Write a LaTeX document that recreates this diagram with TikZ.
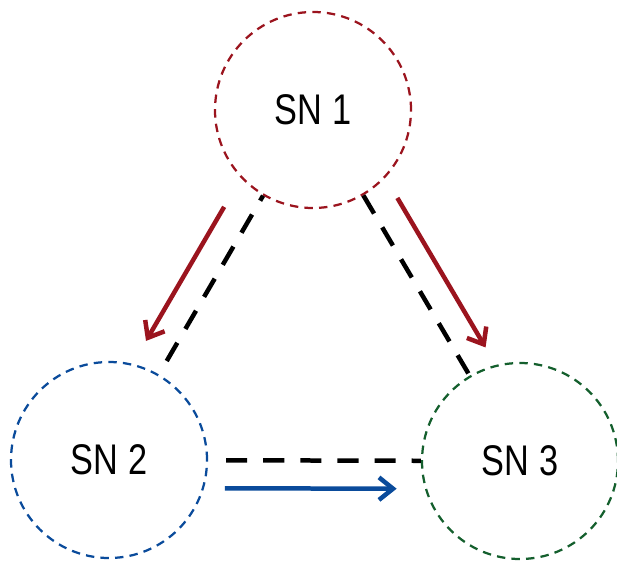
\documentclass[tikz,border=0pt]{standalone}
\usepackage{fontspec}
\newfontfamily\nodefont[FakeStretch=0.8]{Liberation Sans}
\usetikzlibrary{arrows.meta,calc}
\definecolor{snred}{RGB}{155,20,30}
\definecolor{snblue}{RGB}{10,75,155}
\definecolor{sngreen}{RGB}{20,95,45}

\begin{document}
\begin{tikzpicture}[
    sn/.style={circle, draw, line width=1.6pt, dash pattern=on 6pt off 4.4pt, minimum size=4.9cm, inner sep=0pt, font=\nodefont\fontsize{30.5}{31}\selectfont},
    lien/.style={line width=3.2pt, dash pattern=on 15pt off 11.4pt},
    fleche/.style={line width=3.2pt, -{Straight Barb[length=10pt, width=16pt]}}
]
    \useasboundingbox (0,0) rectangle (15.425,-14);

    % Noeuds
    \node[sn, draw=snred] (sn1) at (7.825, -2.75) {SN 1};
    \node[sn, draw=snblue] (sn2) at (2.725, -11.5) {SN 2};
    \node[sn, draw=sngreen] (sn3) at (13.0, -11.525) {SN 3};

    % Liens
    \draw[lien, shorten <=11pt] (sn2) -- (sn1);
    \draw[lien] (sn1) -- (sn3);
    \draw[lien, shorten <=12.8pt] (sn2) -- (sn3);

    % Fl\`eches
    \draw[fleche, snred] ($(sn1)!0.317!(sn2)!0.7cm!-90:(sn2)$) -- ($(sn1)!0.70!(sn2)!0.7cm!-90:(sn2)$);
    \draw[fleche, snred] ($(sn1)!0.291!(sn3)!0.7cm!90:(sn3)$) -- ($(sn1)!0.717!(sn3)!0.7cm!90:(sn3)$);
    \draw[fleche, snblue] ($(sn2)!0.282!(sn3)!0.7cm!-90:(sn3)$) -- ($(sn2)!0.70!(sn3)!0.7cm!-90:(sn3)$);
\end{tikzpicture}
\end{document}
